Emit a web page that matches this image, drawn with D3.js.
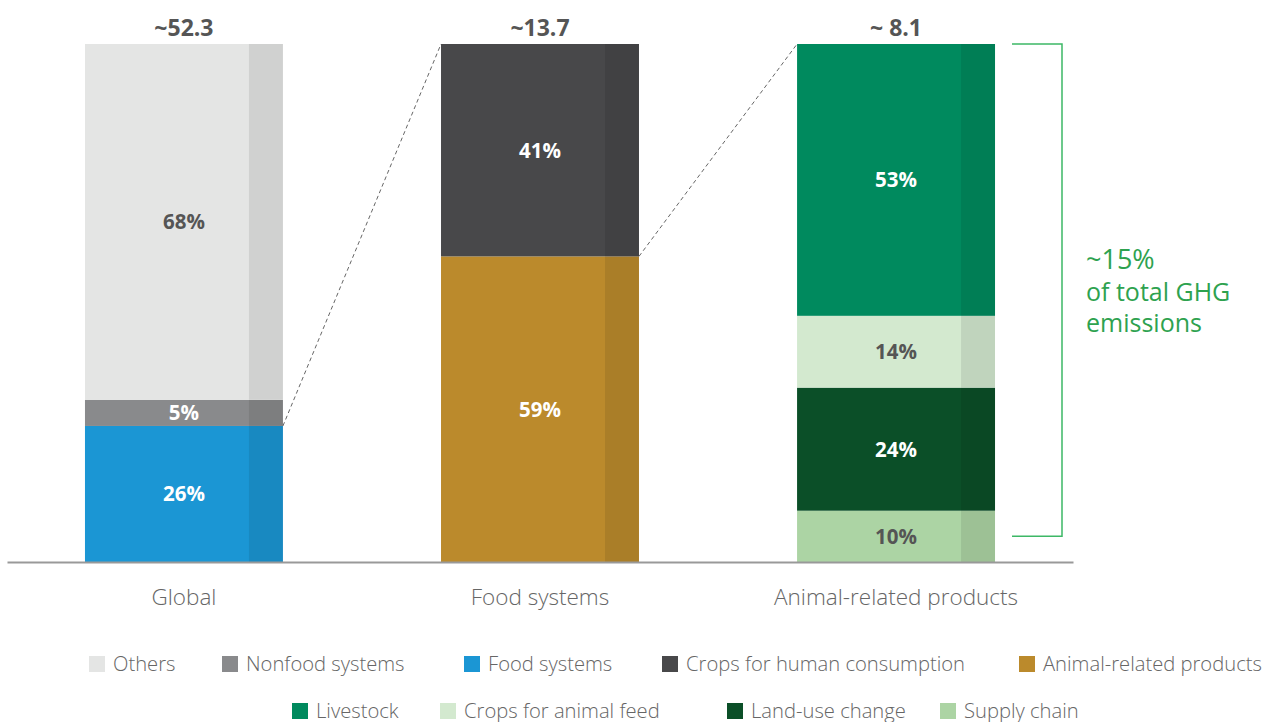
<!DOCTYPE html>
<html><head><meta charset="utf-8">
<script src="https://cdn.jsdelivr.net/npm/d3@7"></script>
<style>
html,body{margin:0;padding:0;background:#fff;}
svg{display:block;font-family:"Open Sans",Roboto,sans-serif;}
</style></head>
<body>
<svg id="c" width="1269" height="722"></svg>
<script>
// ---- data ----
const categories = ["Global", "Food systems", "Animal-related products"];
const totals = ["~52.3", "~13.7", "~ 8.1"];
// segments bottom -> top per bar
const globalSegs = ["Food systems", "Nonfood systems", "Others"];
const globalVals = [26, 5, 68];
const foodSegs = ["Animal-related products", "Crops for human consumption"];
const foodVals = [59, 41];
const animalSegs = ["Supply chain", "Land-use change", "Crops for animal feed", "Livestock"];
const animalVals = [10, 24, 14, 53];
const legendRow1 = ["Others", "Nonfood systems", "Food systems", "Crops for human consumption", "Animal-related products"];
const legendRow2 = ["Livestock", "Crops for animal feed", "Land-use change", "Supply chain"];
const bracketLines = ["~15%", "of total GHG", "emissions"];

// ---- styles ----
const colors = {
  "Others": "#e4e5e4",
  "Nonfood systems": "#898a8c",
  "Food systems": "#1b96d4",
  "Crops for human consumption": "#48484a",
  "Animal-related products": "#bb8a2c",
  "Livestock": "#008a5e",
  "Crops for animal feed": "#d3e9cf",
  "Land-use change": "#0b4f28",
  "Supply chain": "#acd4a4"
};
const darkLabel = new Set(["Others", "Crops for animal feed", "Supply chain"]);
const legendX1 = [89, 222, 464, 662, 1019];
const legendX2 = [292, 440, 727, 940];

const svg = d3.select("#c");
const baseY = 562, topY = 44;

const x = d3.scaleBand().domain(categories).range([7, 1073]).paddingInner(0.444).paddingOuter(0.219);
const y = d3.scaleLinear().domain([0, 1]).range([baseY, topY]);

const bars = [
  {cat: categories[0], segs: globalSegs, vals: globalVals},
  {cat: categories[1], segs: foodSegs, vals: foodVals},
  {cat: categories[2], segs: animalSegs, vals: animalVals}
];

const shadeW = 34;
const segPos = {};
bars.forEach((b, bi) => {
  const sum = d3.sum(b.vals);
  let acc = 0;
  const g = svg.append("g");
  b.segs.forEach((s, i) => {
    const y0 = y(acc / sum), y1 = y((acc + b.vals[i]) / sum);
    acc += b.vals[i];
    const x0 = x(b.cat), bw = x.bandwidth();
    g.append("rect").attr("x", x0).attr("y", y1).attr("width", bw).attr("height", y0 - y1).attr("fill", colors[s]);
    g.append("rect").attr("x", x0 + bw - shadeW).attr("y", y1).attr("width", shadeW).attr("height", y0 - y1)
      .attr("fill", "#000").attr("opacity", 0.085);
    g.append("text").attr("x", x0 + bw / 2).attr("y", (y0 + y1) / 2).attr("dy", "0.36em")
      .attr("text-anchor", "middle").attr("font-size", 20.5).attr("font-weight", 700)
      .attr("fill", darkLabel.has(s) ? "#555" : "#fff").text(b.vals[i] + "%");
    segPos[bi + ":" + s] = {x0, x1: x0 + bw, y0, y1};
  });
  svg.append("text").attr("x", x(b.cat) + x.bandwidth() / 2).attr("y", 36)
    .attr("text-anchor", "middle").attr("font-size", 23).attr("font-weight", 700).attr("fill", "#555")
    .text(totals[bi]);
});

// axis baseline
const xAxis = d3.axisBottom(x).tickSize(0).tickPadding(27);
const ax = svg.append("g").attr("transform", `translate(0,${baseY})`).call(xAxis);
ax.select(".domain").attr("stroke", "#999").attr("stroke-width", 2);
ax.selectAll("text").attr("font-size", 22.5).attr("font-weight", 300).attr("fill", "#666")
  .attr("font-family", "'Open Sans', sans-serif");

// dashed zoom lines
const dash = (a, b) => svg.append("line").attr("x1", a[0]).attr("y1", a[1]).attr("x2", b[0]).attr("y2", b[1])
  .attr("stroke", "#666").attr("stroke-width", 1).attr("stroke-dasharray", "4,3");
const gFood = segPos["0:Food systems"];
dash([gFood.x1, gFood.y1], [x(categories[1]), y(1)]);
const fAnim = segPos["1:Animal-related products"];
dash([fAnim.x1, fAnim.y1], [x(categories[2]), y(1)]);

// bracket
const bx = 1062, bl = 1012;
const bTop = y(1);
const sc = segPos["2:Supply chain"];
const bBot = (sc.y0 + sc.y1) / 2;
svg.append("path").attr("d", `M${bl},${bTop}H${bx}V${bBot}H${bl}`)
  .attr("fill", "none").attr("stroke", "#3db866").attr("stroke-width", 1.5);
const bSizes = [27, 25, 25];
const bBase = [269, 301, 332];
bracketLines.forEach((t, i) => {
  svg.append("text").attr("x", 1086).attr("y", bBase[i]).attr("font-size", bSizes[i])
    .attr("fill", "#2ea24f").text(t);
});

// legend
function legendRow(items, xs, cy) {
  items.forEach((it, i) => {
    svg.append("rect").attr("x", xs[i]).attr("y", cy - 8).attr("width", 16).attr("height", 16).attr("fill", colors[it]);
    svg.append("text").attr("x", xs[i] + 24).attr("y", cy).attr("dy", "0.35em")
      .attr("font-size", 20.2).attr("font-weight", 300).attr("fill", "#666").text(it);
  });
}
legendRow(legendRow1, legendX1, 664);
legendRow(legendRow2, legendX2, 711);
</script>
</body></html>
